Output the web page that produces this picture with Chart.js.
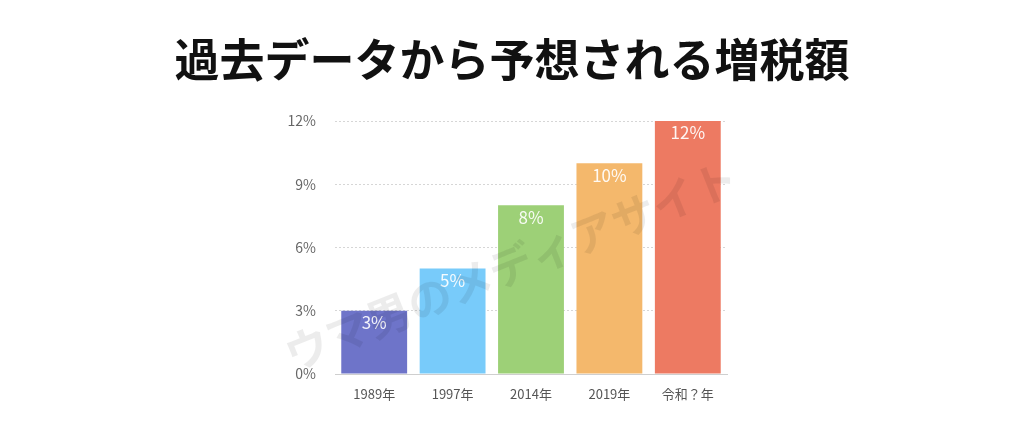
<!DOCTYPE html>
<html lang="ja">
<head>
<meta charset="utf-8">
<script src="https://cdn.jsdelivr.net/npm/chart.js"></script>
<style>
  html, body { margin: 0; padding: 0; background: #fff; }
  #wrap { width: 1024px; height: 427px; }
</style>
</head>
<body>
<div id="wrap"><canvas id="taxChart"></canvas></div>
<script>
const titleText = "過去データから予想される増税額";
const years = ["1989年", "1997年", "2014年", "2019年", "令和？年"];
const rates = [3, 5, 8, 10, 12];
const barColors = ["#6e74c9", "#78cbfa", "#9dd077", "#f4b86c", "#ed7a62"];
const yTicks = [0, 3, 6, 9, 12];
const watermark = "ウマ男のメディアサイト";

const jpFont = '"Noto Sans CJK JP", "Noto Sans", sans-serif';

// ✅ Value labels inside the top of each bar
const valueLabels = {
  id: "valueLabels",
  afterDatasetsDraw(chart) {
    const ctx = chart.ctx;
    const meta = chart.getDatasetMeta(0);
    ctx.save();
    ctx.fillStyle = "rgba(255,255,255,0.92)";
    ctx.font = "17px " + jpFont;
    ctx.textAlign = "center";
    ctx.textBaseline = "middle";
    meta.data.forEach((bar, i) => {
      ctx.fillText(rates[i] + "%", bar.x, bar.y + 12);
    });
    ctx.restore();
  },
};

// ✅ Diagonal watermark
const watermarkText = {
  id: "watermarkText",
  afterDraw(chart) {
    const ctx = chart.ctx;
    const area = chart.chartArea;
    ctx.save();
    ctx.translate((area.left + area.right) / 2 - 20, (area.top + area.bottom) / 2 + 18);
    ctx.rotate(-22 * Math.PI / 180);
    ctx.fillStyle = "rgba(0,0,0,0.075)";
    ctx.font = "bold 44px " + jpFont;
    ctx.textAlign = "center";
    ctx.textBaseline = "middle";
    ctx.fillText(watermark, 0, 0);
    ctx.restore();
  },
};

const ctx = document.getElementById("taxChart").getContext("2d");
new Chart(ctx, {
  type: "bar",
  data: {
    labels: years,
    datasets: [
      {
        data: rates,
        backgroundColor: barColors,
        borderWidth: 0,
        barPercentage: 0.84,
        categoryPercentage: 1,
      },
    ],
  },
  options: {
    responsive: true,
    maintainAspectRatio: false,
    animation: false,
    layout: { padding: { left: 0, right: 0, top: 0, bottom: 23 } },
    plugins: {
      legend: { display: false },
      tooltip: { enabled: false },
      title: {
        display: true,
        text: titleText,
        color: "#111",
        font: { family: jpFont, size: 45, weight: "bold" },
        padding: { top: 33, bottom: 34 },
      },
    },
    scales: {
      x: {
        grid: { display: false },
        border: { display: true, color: "#cfcfcf", width: 1 },
        ticks: { color: "#555", font: { family: jpFont, size: 13 }, padding: 4 },
        afterFit: (scale) => { scale.height = 30; },
      },
      y: {
        min: 0,
        max: 12,
        afterBuildTicks: (scale) => { scale.ticks = yTicks.map((v) => ({ value: v })); },
        grid: { color: "#d6d6d6", drawTicks: false, lineWidth: 1 },
        border: { display: false, dash: [2, 2] },
        ticks: {
          color: "#666",
          font: { family: jpFont, size: 14 },
          padding: 19,
          callback: (v) => v + "%",
        },
        afterFit: (scale) => { scale.width = 335; },
      },
      // empty right-side gutter so the plot keeps its width
      gutter: {
        position: "right",
        min: 0,
        max: 12,
        grid: { display: false },
        border: { display: false },
        ticks: { display: false },
        afterFit: (scale) => { scale.width = 297; },
      },
    },
  },
  plugins: [valueLabels, watermarkText],
});
</script>
</body>
</html>
